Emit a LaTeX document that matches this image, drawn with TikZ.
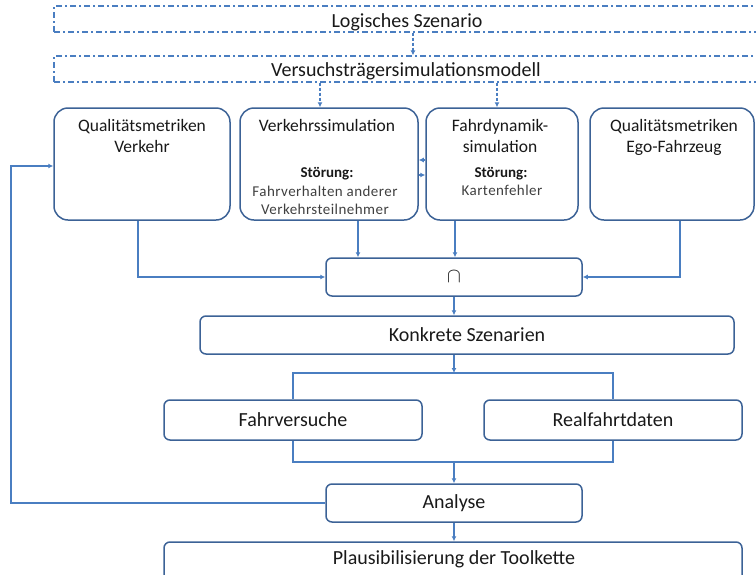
\documentclass[tikz,border=0pt]{standalone}
\usepackage{fontspec}
\setmainfont{Carlito}
\usetikzlibrary{arrows.meta}
\definecolor{boxc}{RGB}{60,98,150}
\definecolor{linec}{RGB}{74,126,193}
\definecolor{txt}{RGB}{25,25,25}
\definecolor{txtg}{RGB}{64,64,64}
\begin{document}
\begin{tikzpicture}[x=1pt,y=-1pt,
  bigbox/.style={draw=boxc, line width=1.5pt, rounded corners=14pt, inner sep=0pt},
  smallbox/.style={draw=boxc, line width=1.5pt, rounded corners=6pt, inner sep=0pt, text=txt, font=\fontsize{20}{22}\selectfont},
  ddbox/.style={draw=linec, line width=1.3pt, dash pattern=on 6pt off 3pt on 2pt off 3pt, inner sep=0pt},
  toptext/.style={text=txt, font=\fontsize{20}{22}\selectfont, inner sep=0pt, anchor=base},
  head/.style={text=txt, font=\fontsize{17.5}{21}\selectfont, inner sep=0pt, anchor=base},
  small/.style={text=txtg, font=\addfontfeatures{LetterSpace=3}\fontsize{15}{18}\selectfont, inner sep=0pt, anchor=base},
  smallbold/.style={text=txt, font=\bfseries\fontsize{15}{18}\selectfont, inner sep=0pt, anchor=base},
  conn/.style={draw=linec, line width=1.3pt},
  arr/.style={conn, -{Latex[length=5pt,width=5pt]}},
  darr/.style={arr, dash pattern=on 3pt off 2pt}
]
\useasboundingbox (0,0) rectangle (756,574);

% dash-dot boxes
\node[ddbox, minimum width=712, minimum height=26] (A) at (410,19) {};
\node[toptext] (At) at (407,27) {Logisches Szenario};
\node[ddbox, minimum width=712, minimum height=26] (B) at (410,69) {};
\node[toptext] (Bt) at (406,76) {Versuchsträgersimulationsmodell};
\draw[darr] ([xshift=6pt]At.south |- A.south) -- ([xshift=6pt]At.south |- B.north);

% top row
\node[bigbox, minimum width=176, minimum height=112] (qv) at (142,164) {};
\node[bigbox, minimum width=178, minimum height=112] (vs) at (329,164) {};
\node[bigbox, minimum width=152, minimum height=112] (fd) at (502,164) {};
\node[bigbox, minimum width=164, minimum height=112] (qe) at (672,164) {};

\node[head] (qv1) at (142,131) {Qualitätsmetriken};
\node[head] (qv2) at (142,152) {Verkehr};
\node[head] (vs1) at (327,131) {Verkehrssimulation};
\node[smallbold] (vs2) at (327,177) {Störung:};
\node[small] (vs3) at (325,196) {Fahrverhalten anderer};
\node[small] (vs4) at (325,214) {Verkehrsteilnehmer};
\node[head] (fd1) at (500,131) {Fahrdynamik-};
\node[head] (fd2) at (500,152) {simulation};
\node[smallbold] (fd3) at (501,177) {Störung:};
\node[small] (fd4) at (502,195) {Kartenfehler};
\node[head] (qe1) at (674,131) {Qualitätsmetriken};
\node[head] (qe2) at (674,152) {Ego-Fahrzeug};

\draw[darr] ([xshift=-9pt]vs.north |- B.south) -- ([xshift=-9pt]vs.north);
\draw[darr] ([xshift=-5pt]fd.north |- B.south) -- ([xshift=-5pt]fd.north);

\draw[arr] ([yshift=-11pt]vs.east) -- ([yshift=-11pt]fd.west);
\draw[arr] ([yshift=4pt]fd.west) -- ([yshift=4pt]vs.east);

% intersection
\node[smallbox, minimum width=256, minimum height=38] (cap) at (454,277) {$\cap$};
\draw[arr] ([xshift=29pt]vs.south) -- ([xshift=29pt]vs.south |- cap.north);
\draw[arr] ([xshift=-47pt]fd.south) -- ([xshift=-47pt]fd.south |- cap.north);
\draw[arr] ([xshift=-4pt]qv.south) |- (cap.west);
\draw[arr] ([xshift=8pt]qe.south) |- (cap.east);

% concrete scenarios
\node[smallbox, minimum width=534, minimum height=38] (konk) at (467,335) {Konkrete Szenarien};
\draw[arr] (cap.south) -- (cap.south |- konk.north);

\node[smallbox, minimum width=258, minimum height=40] (fv) at (293,420) {Fahrversuche};
\node[smallbox, minimum width=258, minimum height=40] (rf) at (613,420) {Realfahrtdaten};
\coordinate (split) at (454,373);
\coordinate (merge) at (454,462);
\draw[arr] (cap.south |- konk.south) -- (split);
\draw[conn] (fv.north) |- (split) -| (rf.north);
\draw[conn] (fv.south) |- (merge) -| (rf.south);

\node[smallbox, minimum width=256, minimum height=38] (an) at (454,503) {Analyse};
\draw[arr] (merge) -- (an.north);

\coordinate (fb) at (11,503);
\draw[arr] (an.west) -- (fb) |- ([yshift=-2pt]qv.west);

\node[smallbox, minimum width=578, minimum height=50] (pl) at (453,567) {};
\node[text=txt, font=\fontsize{20}{22}\selectfont, inner sep=0pt, anchor=base] (plt) at (454,564) {Plausibilisierung der Toolkette};
\draw[arr] (an.south) -- (an.south |- pl.north);
\end{tikzpicture}
\end{document}
